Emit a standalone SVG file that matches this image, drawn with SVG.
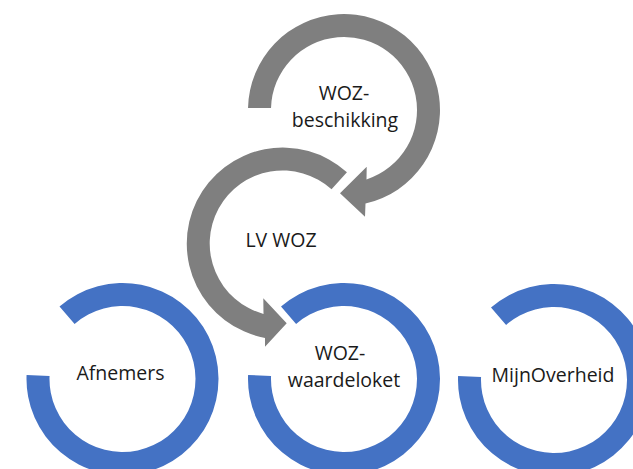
<svg xmlns="http://www.w3.org/2000/svg" width="633" height="469" viewBox="0 0 633 469">
  <style>
    .blue { fill: #4472C4; }
    .gray { fill: #7F7F7F; }
    .lbl { font-family: "Open Sans", "Noto Sans", "Liberation Sans", sans-serif; font-size: 19.5px; fill: #1a1a1a; text-anchor: middle; }
  </style>
  <rect x="0" y="0" width="633" height="469" fill="#ffffff"/>
  <g id="connectors">
    <path id="arrow-beschikking-to-lvwoz" class="gray" d="M 248.02 108 A 96 96 0 1 1 365.5 203.6 L 365 216.7 L 340 193.3 L 366.7 166.7 L 366.5 179.4 A 73 73 0 1 0 271.03 108 Z"/>
    <path id="arrow-lvwoz-to-waardeloket" class="gray" d="M 346.94 172.16 A 96 96 0 1 0 265 337.9 L 265 346.7 L 286.7 323.3 L 263.3 298.3 L 263.5 313.93 A 73 73 0 1 1 331.55 189.25 Z"/>
  </g>
  <g id="node-woz-beschikking">
    <text class="lbl"><tspan x="344" y="100">WOZ-</tspan><tspan x="345" y="126.7">beschikking</tspan></text>
  </g>
  <g id="node-lv-woz">
    <text class="lbl" x="281" y="246.5">LV WOZ</text>
  </g>
  <g id="node-afnemers">
    <path class="blue" d="M 59.51 306.55 A 96 96 0 1 1 26.58 374.98 L 49.56 375.94 A 73 73 0 1 0 74.6 323.91 Z"/>
    <text class="lbl" x="120.5" y="380">Afnemers</text>
  </g>
  <g id="node-woz-waardeloket">
    <path class="blue" d="M 281.01 306.55 A 96 96 0 1 1 248.08 374.98 L 271.06 375.94 A 73 73 0 1 0 296.1 323.91 Z"/>
    <text class="lbl"><tspan x="340" y="360">WOZ-</tspan><tspan x="344" y="386.7">waardeloket</tspan></text>
  </g>
  <g id="node-mijnoverheid">
    <path class="blue" d="M 491.01 307.55 A 96 96 0 1 1 458.08 375.98 L 481.06 376.94 A 73 73 0 1 0 506.1 324.91 Z"/>
    <text class="lbl" x="553" y="382">MijnOverheid</text>
  </g>
</svg>
